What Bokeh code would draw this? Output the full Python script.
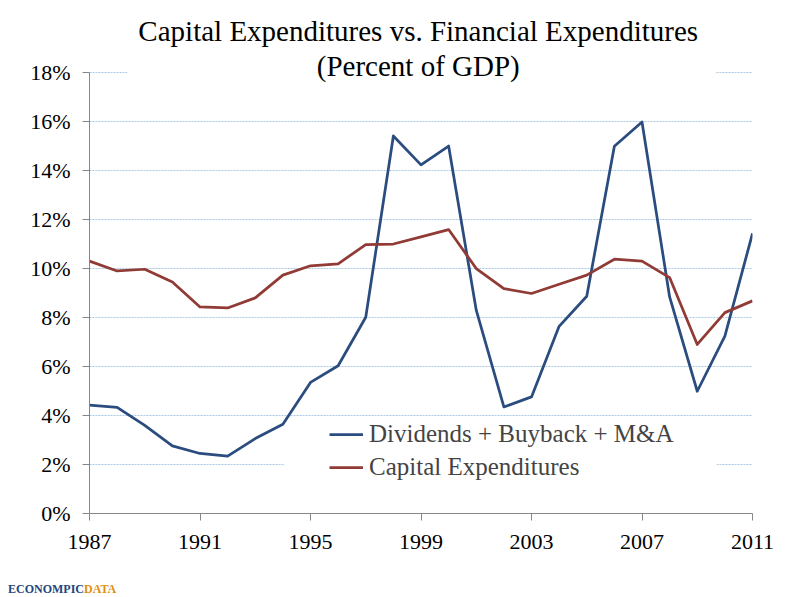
import numpy as np
from bokeh.plotting import figure
from bokeh.layouts import column
from bokeh.models import (
    BoxAnnotation, Div, FixedTicker, Label, Legend, LegendItem,
    PrintfTickFormatter, Range1d,
)
from bokeh.embed import file_html
from bokeh.resources import INLINE

# Values (percent of GDP)
YEARS = list(range(1987, 2012))
PAYOUTS = [4.42, 4.33, 3.60, 2.76, 2.45, 2.34, 3.06, 3.64, 5.35, 6.03,
           8.01, 15.41, 14.23, 15.00, 8.30, 4.35, 4.76, 7.64, 8.87, 14.99,
           15.98, 8.84, 4.99, 7.24, 11.43]
CAPEX = [10.30, 9.90, 9.97, 9.45, 8.43, 8.39, 8.80, 9.73, 10.11, 10.19,
         10.98, 11.00, 11.29, 11.59, 10.00, 9.18, 8.98, 9.36, 9.73, 10.38,
         10.30, 9.63, 6.90, 8.20, 8.68]
X_TICKS = [1987, 1991, 1995, 1999, 2003, 2007, 2011]
Y_TICKS = [0, 2, 4, 6, 8, 10, 12, 14, 16, 18]

SERIES_NAMES = ["Dividends + Buyback + M&A", "Capital Expenditures"]
TITLE_LINES = ["Capital Expenditures vs. Financial Expenditures",
               "(Percent of GDP)"]
BLUE = "#2b4c7e"
RED = "#913b36"
GRID = "#a9c8e4"
AXIS = "#868686"
FONT = "Liberation Serif"

p = figure(
    width=800, height=566,
    title=None,
    x_range=Range1d(1987, 2011),
    y_range=Range1d(0, 20.94),
    toolbar_location=None,
    output_backend="svg",
    min_border_left=89, min_border_right=48,
    min_border_top=0, min_border_bottom=53,
)
p.outline_line_color = None
p.background_fill_color = "white"

# grid: dotted light blue, horizontal only
p.xgrid.grid_line_color = None
p.ygrid.grid_line_color = GRID
p.ygrid.grid_line_dash = "2 1"
p.ygrid.grid_line_width = 1

# axes
p.xaxis.ticker = FixedTicker(ticks=X_TICKS, minor_ticks=[])
p.yaxis.ticker = FixedTicker(ticks=Y_TICKS, minor_ticks=[])
p.xaxis.formatter = PrintfTickFormatter(format="%d")
p.yaxis.formatter = PrintfTickFormatter(format="%d%%")
p.yaxis.bounds = (0, 18)
for ax in (p.xaxis, p.yaxis):
    ax.axis_line_color = AXIS
    ax.major_tick_line_color = AXIS
    ax.major_tick_in = 0
    ax.major_tick_out = 7
    ax.minor_tick_line_color = None
    ax.major_label_text_font = FONT
    ax.major_label_text_font_size = "22px"
    ax.major_label_text_color = "black"
p.xaxis.major_label_standoff = 14
p.yaxis.major_label_standoff = 12

# white boxes behind the title and the legend (hide gridlines there)
p.add_layout(BoxAnnotation(left=1988.37, right=2009.67, bottom=17.2, top=21,
                           fill_color="white", fill_alpha=1,
                           line_alpha=0, level="underlay"))
p.add_layout(BoxAnnotation(left=1994.05, right=2009.7, bottom=0.5, top=3.4,
                           fill_color="white", fill_alpha=1,
                           line_alpha=0, level="underlay"))

r_pay = p.line(YEARS, PAYOUTS, line_color=BLUE, line_width=2.75,
               line_join="round")
r_cap = p.line(YEARS, CAPEX, line_color=RED, line_width=2.75,
               line_join="round")

legend = Legend(
    items=[LegendItem(label=SERIES_NAMES[0], renderers=[r_pay]),
           LegendItem(label=SERIES_NAMES[1], renderers=[r_cap])],
    location=(240, 31),
    padding=0, margin=0, spacing=3,
    glyph_width=34, glyph_height=30, label_height=30,
    label_standoff=6,
    label_text_font=FONT, label_text_font_size="25px",
    background_fill_alpha=0, border_line_alpha=0,
)
p.add_layout(legend)

# two-line title drawn inside the top of the frame
p.add_layout(Label(x=1998.9, y=19.68, text=TITLE_LINES[0],
                   text_align="center", text_baseline="alphabetic",
                   text_font=FONT, text_font_size="29px", text_color="black"))
p.add_layout(Label(x=1998.9, y=18.25, text=TITLE_LINES[1],
                   text_align="center", text_baseline="alphabetic",
                   text_font=FONT, text_font_size="29px", text_color="black"))

# source logo strip, bottom left
logo = Div(
    text=("<div style=\"padding:12px 0 0 3px; font-family:'Liberation Serif';"
          " font-weight:bold; font-size:12px; line-height:12px;\">"
          "<span style=\"color:#22467f\">ECONOMPIC</span>"
          "<span style=\"color:#e0900f\">DATA</span></div>"),
    width=800, height=30,
)

page = column(p, logo, spacing=0)
open("out.html", "w").write(file_html(page, INLINE))
